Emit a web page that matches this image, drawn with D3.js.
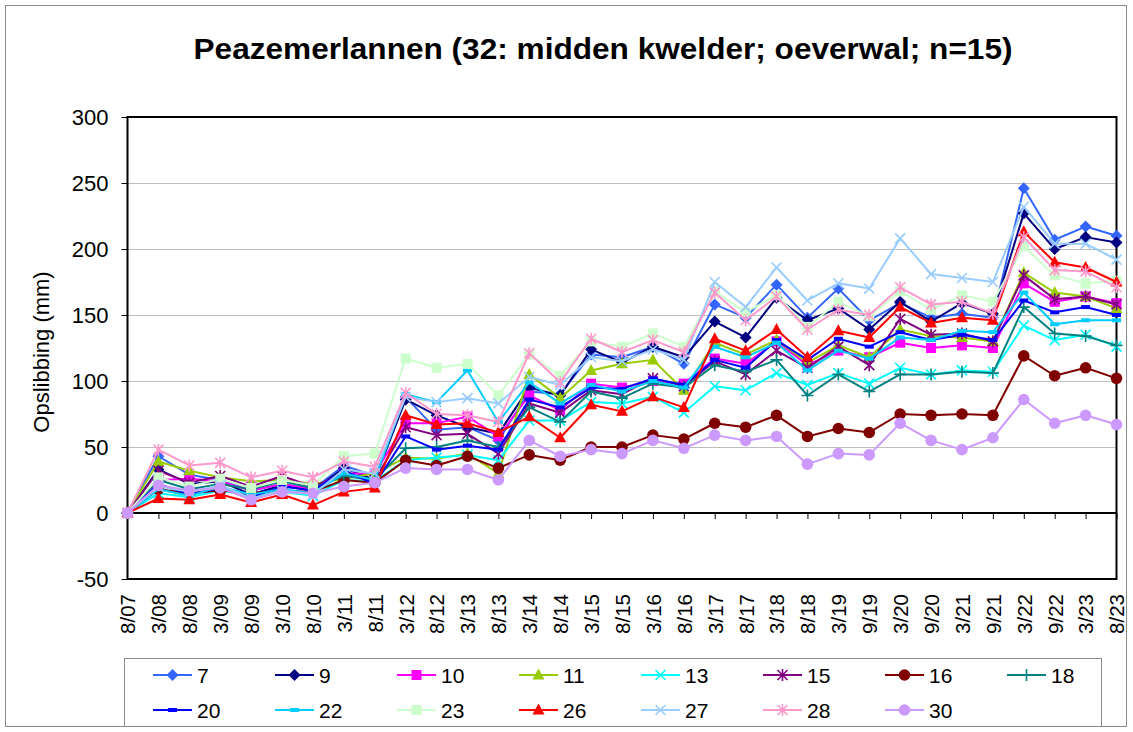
<!DOCTYPE html>
<html>
<head>
<meta charset="utf-8">
<script src="https://cdnjs.cloudflare.com/ajax/libs/d3/7.8.5/d3.min.js"></script>
<style>
  body { margin: 0; background: #fff; }
  svg { font-family: "Liberation Sans", Arial, sans-serif; }
</style>
</head>
<body>
<div id="chart"></div>
<script>

var categories = ["8/07", "3/08", "8/08", "3/09", "8/09", "3/10", "8/10", "3/11", "8/11",
    "3/12", "8/12", "3/13", "8/13", "3/14", "8/14", "3/15", "8/15", "3/16", "8/16",
    "3/17", "8/17", "3/18", "8/18", "3/19", "9/19", "3/20", "9/20", "3/21", "9/21",
    "3/22", "9/22", "3/23", "8/23"];

var yTicks = [-50, 0, 50, 100, 150, 200, 250, 300];

var seriesNames = ["7", "9", "10", "11", "13", "15", "16", "18", "20", "22", "23", "26", "27", "28", "30"];

var s7  = [0, 43, 29, 25, 17, 22, 18, 36, 28, 88, 63, 65, 55, 92, 90, 120, 118, 126, 113, 158, 148, 173, 148, 170, 146, 159, 148, 151, 148, 246, 207, 217, 210];
var s9  = [0, 33, 22, 24, 14, 21, 17, 34, 25, 86, 74, 65, 60, 95, 89, 124, 114, 126, 118, 145, 133, 163, 146, 155, 139, 160, 145, 159, 151, 227, 200, 209, 205];
var s10 = [0, 25, 26, 24, 17, 22, 18, 30, 30, 68, 68, 73, 58, 89, 78, 98, 95, 100, 98, 117, 113, 130, 112, 123, 118, 129, 125, 127, 125, 174, 160, 164, 159];
var s11 = [0, 39, 32, 27, 24, 25, 22, 26, 30, 42, 41, 45, 30, 105, 87, 108, 113, 116, 93, 129, 120, 131, 114, 127, 118, 139, 134, 133, 130, 182, 167, 164, 155];
var s13 = [0, 15, 12, 17, 13, 16, 13, 25, 24, 40, 42, 44, 40, 70, 70, 84, 83, 88, 76, 96, 93, 106, 97, 106, 98, 110, 105, 108, 107, 142, 131, 135, 126];
var s15 = [0, 32, 23, 28, 20, 28, 20, 30, 25, 65, 59, 60, 45, 83, 76, 93, 90, 102, 96, 115, 105, 123, 110, 126, 112, 147, 135, 136, 130, 180, 162, 164, 158];
var s16 = [0, 18, 15, 17, 15, 17, 16, 25, 23, 40, 36, 43, 34, 44, 40, 50, 50, 59, 56, 68, 65, 74, 58, 64, 61, 75, 74, 75, 74, 119, 104, 110, 102];
var s18 = [0, 25, 18, 22, 18, 24, 19, 28, 25, 49, 50, 55, 50, 80, 69, 92, 87, 98, 95, 112, 107, 116, 89, 105, 92, 105, 105, 107, 106, 156, 136, 134, 127];
var s20 = [0, 22, 14, 19, 12, 20, 17, 32, 22, 58, 48, 51, 48, 86, 80, 95, 94, 102, 97, 116, 110, 131, 116, 132, 126, 137, 131, 135, 131, 161, 152, 156, 150];
var s22 = [0, 18, 13, 20, 14, 18, 15, 30, 25, 90, 84, 108, 69, 99, 83, 97, 92, 100, 95, 126, 118, 129, 108, 123, 117, 133, 131, 138, 137, 167, 143, 146, 146];
var s23 = [0, 27, 20, 26, 19, 25, 21, 43, 45, 117, 110, 113, 89, 120, 104, 130, 126, 136, 126, 168, 152, 165, 141, 160, 149, 168, 154, 165, 160, 202, 180, 174, 176];
var s26 = [0, 11, 10, 14, 8, 14, 6, 16, 19, 74, 67, 68, 61, 73, 57, 82, 77, 88, 80, 132, 123, 139, 118, 138, 133, 156, 144, 148, 146, 213, 190, 186, 175];
var s27 = [0, 20, 16, 21, 11, 17, 14, 33, 30, 88, 84, 87, 83, 103, 97, 118, 115, 124, 116, 175, 156, 186, 161, 174, 170, 208, 181, 178, 175, 232, 204, 204, 192];
var s28 = [0, 48, 36, 38, 27, 32, 27, 39, 35, 91, 75, 74, 69, 121, 99, 132, 122, 131, 122, 167, 146, 164, 139, 154, 150, 171, 158, 160, 151, 209, 184, 183, 171];
var s30 = [0, 21, 17, 19, 10, 16, 15, 20, 23, 34, 33, 33, 25, 55, 43, 48, 45, 55, 49, 59, 55, 58, 37, 45, 44, 68, 55, 48, 57, 86, 68, 74, 67];

var seriesValues = [s7, s9, s10, s11, s13, s15, s16, s18, s20, s22, s23, s26, s27, s28, s30];
var seriesColors = ["#3366ff", "#000080", "#ff00ff", "#99cc00", "#00ffff", "#800080", "#800000", "#008080",
    "#0000ff", "#00ccff", "#ccffcc", "#ff0000", "#99ccff", "#ff99cc", "#cc99ff"];
var seriesMarkers = ["diamond", "diamond", "square", "triangle", "x", "asterisk", "circle", "plus",
    "dash", "dash", "square", "triangle", "x", "asterisk", "circle"];

var width = 1133, height = 732;
var plot = { left: 127.5, right: 1116.5, top: 117, bottom: 579 };

var svg = d3.select("#chart").append("svg")
    .attr("width", width)
    .attr("height", height);

// chart border
svg.append("rect")
    .attr("x", 5.5).attr("y", 5.5)
    .attr("width", 1121).attr("height", 721)
    .attr("fill", "#fff")
    .attr("stroke", "#8c8c8c")
    .attr("stroke-width", 1);

var x = d3.scalePoint()
    .domain(categories)
    .range([plot.left, plot.right]);

var y = d3.scaleLinear()
    .domain([-50, 300])
    .range([plot.bottom, plot.top]);

// title
svg.append("text")
    .attr("x", 603).attr("y", 59)
    .attr("text-anchor", "middle")
    .attr("textLength", 819)
    .attr("lengthAdjust", "spacingAndGlyphs")
    .style("font-size", "29px")
    .style("font-weight", "bold")
    .text("Peazemerlannen (32: midden kwelder; oeverwal; n=15)");

// gridlines
svg.append("g")
    .selectAll("line")
    .data(yTicks.filter(function(d) { return d > -50 && d < 300; }))
    .enter().append("line")
    .attr("x1", plot.left).attr("x2", plot.right)
    .attr("y1", function(d) { return Math.round(y(d)) + 0.5; })
    .attr("y2", function(d) { return Math.round(y(d)) + 0.5; })
    .attr("stroke", "#7a7a7a")
    .attr("stroke-width", 1)
    .style("stroke-dasharray", "1,1");

// y axis
var yAxis = svg.append("g")
    .attr("transform", "translate(" + plot.left + ",0)")
    .call(d3.axisLeft(y).tickValues(yTicks).tickSize(6).tickPadding(13)
        .tickFormat(function(d) { return String(d); }));
yAxis.select(".domain").remove();
yAxis.selectAll(".tick line").attr("stroke", "#000").attr("stroke-width", 1);
yAxis.selectAll("text")
    .style("font-size", "22px")
    .style("font-family", "Liberation Sans, Arial, sans-serif")
    .attr("fill", "#000");

// x axis line at zero with ticks
var xAxis = svg.append("g")
    .attr("transform", "translate(0," + y(0) + ")")
    .call(d3.axisBottom(x).tickSize(6).tickFormat(""));
xAxis.select(".domain").attr("stroke", "#000").attr("stroke-width", 2)
    .attr("d", "M" + plot.left + ",0H" + plot.right);
xAxis.selectAll(".tick line").attr("stroke", "#000").attr("stroke-width", 1);

// category labels, rotated, below plot area
var xLabels = svg.append("g")
    .attr("transform", "translate(0," + plot.bottom + ")")
    .call(d3.axisBottom(x).tickSize(0));
xLabels.select(".domain").remove();
xLabels.selectAll("text")
    .attr("transform", "rotate(-90)")
    .attr("x", -15).attr("y", 0).attr("dy", "0.36em")
    .style("text-anchor", "end")
    .style("font-size", "20.5px")
    .style("font-family", "Liberation Sans, Arial, sans-serif")
    .attr("fill", "#000");

// plot area frame
svg.append("rect")
    .attr("x", plot.left).attr("y", plot.top)
    .attr("width", plot.right - plot.left).attr("height", plot.bottom - plot.top)
    .attr("fill", "none")
    .attr("stroke", "#000")
    .attr("stroke-width", 2);

// y axis title
svg.append("text")
    .attr("transform", "translate(49,352) rotate(-90)")
    .attr("text-anchor", "middle")
    .style("font-size", "22px")
    .text("Opslibbing (mm)");

function drawMarker(g, type, color) {
    switch (type) {
        case "diamond":
            g.append("path").attr("d", "M0,-6L6,0L0,6L-6,0Z").attr("fill", color);
            break;
        case "square":
            g.append("rect").attr("x", -5).attr("y", -5).attr("width", 10).attr("height", 10).attr("fill", color);
            break;
        case "triangle":
            g.append("path").attr("d", "M0,-6.5L6,4.5L-6,4.5Z").attr("fill", color);
            break;
        case "circle":
            g.append("circle").attr("r", 5.8).attr("fill", color);
            break;
        case "x":
            g.append("path").attr("d", "M-5,-5L5,5M-5,5L5,-5")
                .attr("stroke", color).attr("stroke-width", 1.6).attr("fill", "none");
            break;
        case "asterisk":
            g.append("path").attr("d", "M-5,-5L5,5M-5,5L5,-5M0,-6L0,6")
                .attr("stroke", color).attr("stroke-width", 1.6).attr("fill", "none");
            break;
        case "plus":
            g.append("path").attr("d", "M-6,0L6,0M0,-6L0,6")
                .attr("stroke", color).attr("stroke-width", 1.6).attr("fill", "none");
            break;
        case "dash":
            g.append("rect").attr("x", -4.5).attr("y", -2).attr("width", 9).attr("height", 4).attr("fill", color);
            break;
    }
}

var line = d3.line()
    .x(function(d, i) { return x(categories[i]); })
    .y(function(d) { return y(d); });

// series, drawn in legend order so later ones sit on top
seriesNames.forEach(function(name, k) {
    var g = svg.append("g").attr("class", "series s" + name);
    g.append("path")
        .datum(seriesValues[k])
        .attr("d", line)
        .attr("fill", "none")
        .attr("stroke", seriesColors[k])
        .attr("stroke-width", 2)
        .attr("stroke-linejoin", "round");
    seriesValues[k].forEach(function(v, i) {
        var m = g.append("g")
            .attr("transform", "translate(" + x(categories[i]) + "," + y(v) + ")");
        drawMarker(m, seriesMarkers[k], seriesColors[k]);
    });
});

// legend
var legend = svg.append("g");
legend.append("rect")
    .attr("x", 124.5).attr("y", 658.5)
    .attr("width", 977).attr("height", 68)
    .attr("fill", "#fff")
    .attr("stroke", "#8c8c8c")
    .attr("stroke-width", 1);

seriesNames.forEach(function(name, k) {
    var col = k % 8, row = Math.floor(k / 8);
    var lx = 153 + col * 122, ly = 675 + row * 35;
    var item = legend.append("g").attr("transform", "translate(" + lx + "," + ly + ")");
    item.append("line")
        .attr("x1", 0).attr("x2", 39)
        .attr("y1", 0).attr("y2", 0)
        .attr("stroke", seriesColors[k])
        .attr("stroke-width", 2);
    drawMarker(item.append("g").attr("transform", "translate(19.5,0)"), seriesMarkers[k], seriesColors[k]);
    item.append("text")
        .attr("x", 44).attr("y", 0).attr("dy", "0.36em")
        .style("font-size", "21px")
        .text(name);
});

</script>
</body>
</html>
